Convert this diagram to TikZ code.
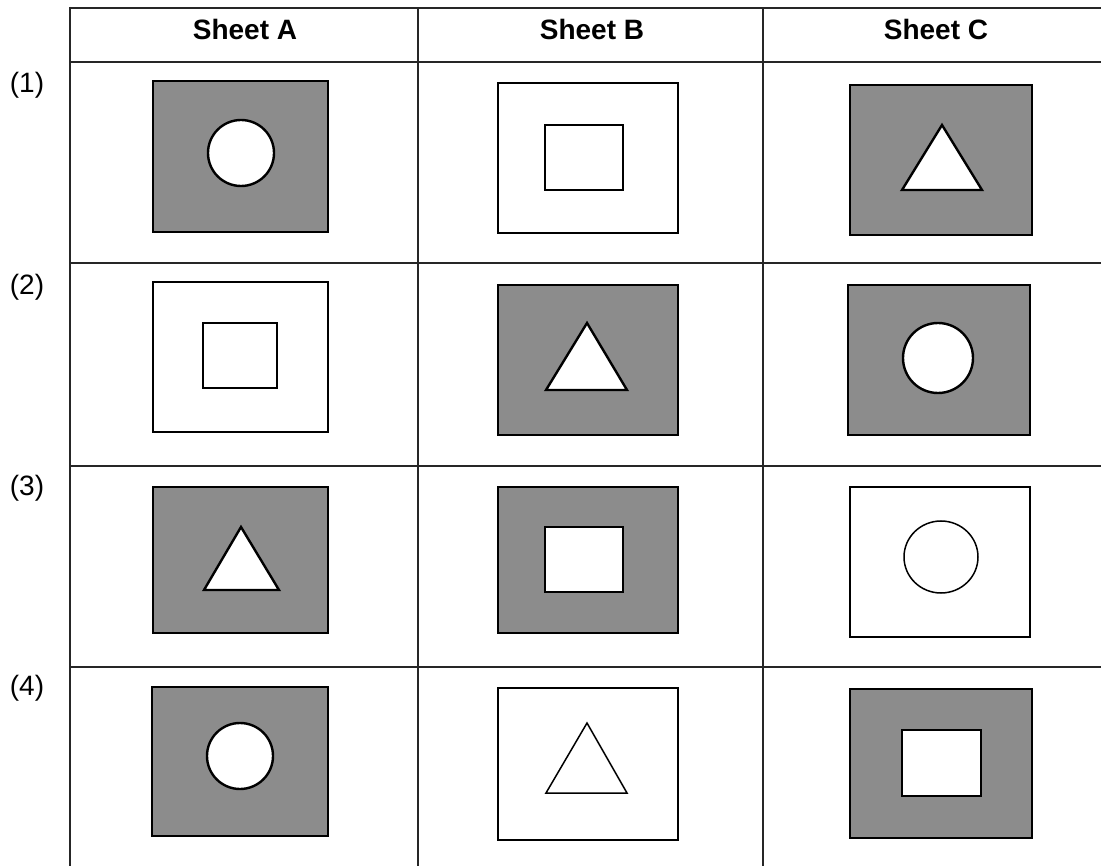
\documentclass[tikz,border=0pt]{standalone}
\usepackage{fontspec}
\setmainfont{Liberation Sans}
\begin{document}
\begin{tikzpicture}[x=1pt,y=-1pt,
  gridline/.style={line width=1.3pt,black!85},
  sheetpaper/.style={line width=2.6pt,draw=black},
  shadedsheet/.style={sheetpaper,fill=black!45},
  plainsheet/.style={sheetpaper,fill=white},
  holeshape/.style={line width=2.4pt,draw=black,fill=white},
  lineshape/.style={line width=1.5pt,draw=black,fill=white},
  headtext/.style={font=\fontsize{28}{32}\selectfont\bfseries,inner sep=0pt},
  rowtext/.style={font=\fontsize{28}{32}\selectfont,inner sep=0pt}]
\useasboundingbox[fill=white] (0,0) rectangle (1101,866);
% grid
\draw[gridline] (70,8) -- (1101,8);
\draw[gridline] (70,62) -- (1101,62);
\draw[gridline] (70,263) -- (1101,263);
\draw[gridline] (70,466) -- (1101,466);
\draw[gridline] (70,667) -- (1101,667);
\draw[gridline] (70,7) -- (70,866);
\draw[gridline] (418,8) -- (418,866);
\draw[gridline] (763,8) -- (763,866);
% headers
\node[headtext] (hA) at (245,29) {Sheet A};
\node[headtext] (hB) at (592,29) {Sheet B};
\node[headtext] (hC) at (936,29) {Sheet C};
% row labels
\node[rowtext] (r1) at (27,85) {(1)};
\node[rowtext] (r2) at (27,287) {(2)};
\node[rowtext] (r3) at (27,488) {(3)};
\node[rowtext] (r4) at (27,688) {(4)};
% row 1
\draw[shadedsheet] (153,81) rectangle (328,232);
\draw[holeshape] (241,153) circle (33);
\draw[plainsheet] (498,83) rectangle (678,233);
\draw[lineshape] (545,125) rectangle (623,190);
\draw[shadedsheet] (850,85) rectangle (1032,235);
\draw[holeshape] (942,125) -- (982,190) -- (902,190) -- cycle;
% row 2
\draw[plainsheet] (153,282) rectangle (328,432);
\draw[lineshape] (203,323) rectangle (277,388);
\draw[shadedsheet] (498,285) rectangle (678,435);
\draw[holeshape] (587,323) -- (627,390) -- (546,390) -- cycle;
\draw[shadedsheet] (848,285) rectangle (1030,435);
\draw[holeshape] (938,358) circle (35);
% row 3
\draw[shadedsheet] (153,487) rectangle (328,633);
\draw[holeshape] (241,527) -- (279,590) -- (204,590) -- cycle;
\draw[shadedsheet] (498,487) rectangle (678,633);
\draw[holeshape] (545,527) rectangle (623,592);
\draw[plainsheet] (850,487) rectangle (1030,637);
\draw[lineshape] (941,557) ellipse [x radius=37,y radius=36];
% row 4
\draw[shadedsheet] (152,687) rectangle (328,836);
\draw[holeshape] (240,756) circle (33);
\draw[plainsheet] (498,688) rectangle (678,840);
\draw[lineshape] (587,723) -- (627,793) -- (546,793) -- cycle;
\draw[shadedsheet] (850,689) rectangle (1032,838);
\draw[holeshape] (902,730) rectangle (981,796);
\end{tikzpicture}
\end{document}
